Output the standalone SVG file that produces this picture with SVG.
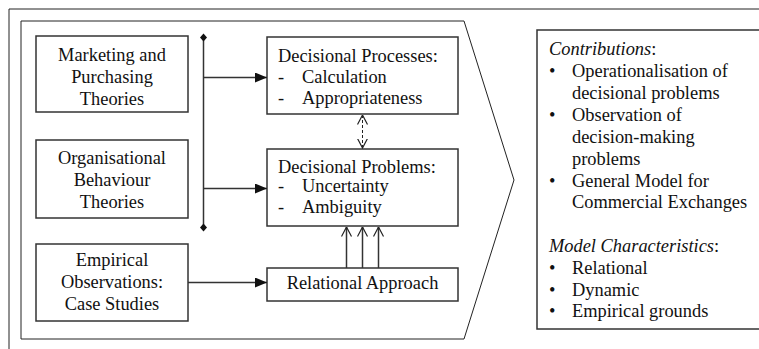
<svg xmlns="http://www.w3.org/2000/svg" width="759" height="349" viewBox="0 0 759 349">
<defs>
<style>
.box{fill:#fff;stroke:#333;stroke-width:1.5}
.ln{fill:none;stroke:#333;stroke-width:1.5}
.thin{fill:none;stroke:#222;stroke-width:1}
text{font-family:'Liberation Serif','Times New Roman',serif;font-size:18.4px;fill:#111}
.c{text-anchor:middle}
.i{font-style:italic}
</style>
<marker id="fa" viewBox="0 0 12 10" refX="12" refY="5" markerWidth="12" markerHeight="10" markerUnits="userSpaceOnUse" orient="auto"><path d="M0,0 L12,5 L0,10 Z" fill="#111"/></marker>
<marker id="oa" viewBox="0 0 10 12" refX="9.5" refY="6" markerWidth="10" markerHeight="12" markerUnits="userSpaceOnUse" orient="auto"><path d="M0,1 L9.5,6 L0,11" fill="none" stroke="#222" stroke-width="1.2"/></marker>
<marker id="oas" viewBox="0 0 10 12" refX="0.5" refY="6" markerWidth="10" markerHeight="12" markerUnits="userSpaceOnUse" orient="auto"><path d="M10,1 L0.5,6 L10,11" fill="none" stroke="#222" stroke-width="1.2"/></marker>
</defs>
<rect width="759" height="349" fill="#fff"/>
<g id="frame">
<path class="thin" d="M9,349 L9,9 L759,9"/>
<path class="thin" d="M21,21 L464,21 L514,180 L464,339 L21,339 Z"/>
</g>
<g id="n-marketing">
<rect class="box" x="36" y="36" width="152" height="76"/>
<text class="c" x="112" y="61">Marketing and</text>
<text class="c" x="112" y="83">Purchasing</text>
<text class="c" x="112" y="105">Theories</text>
</g>
<g id="n-organisational">
<rect class="box" x="36" y="140" width="152" height="78"/>
<text class="c" x="112" y="164">Organisational</text>
<text class="c" x="112" y="186">Behaviour</text>
<text class="c" x="112" y="208">Theories</text>
</g>
<g id="n-empirical">
<rect class="box" x="36" y="244" width="152" height="77"/>
<text class="c" x="112" y="266">Empirical</text>
<text class="c" x="112" y="288">Observations:</text>
<text class="c" x="112" y="310">Case Studies</text>
</g>
<g id="n-processes">
<rect class="box" x="267" y="37" width="191" height="77"/>
<text x="278" y="62">Decisional Processes:</text>
<text x="278" y="83">-</text><text x="302" y="83">Calculation</text>
<text x="278" y="104">-</text><text x="302" y="104">Appropriateness</text>
</g>
<g id="n-problems">
<rect class="box" x="267" y="149" width="191" height="77"/>
<text x="278" y="173">Decisional Problems:</text>
<text x="278" y="192">-</text><text x="302" y="192">Uncertainty</text>
<text x="278" y="213">-</text><text x="302" y="213">Ambiguity</text>
</g>
<g id="n-relational">
<rect class="box" x="267" y="268" width="191" height="33"/>
<text class="c" x="362.5" y="289">Relational Approach</text>
</g>
<g id="n-contributions">
<rect class="box" x="537" y="30" width="230" height="299"/>
<text class="i" x="549" y="55">Contributions<tspan font-style="normal">:</tspan></text>
<text x="549" y="77">•</text><text x="572" y="77">Operationalisation of</text>
<text x="572" y="99">decisional problems</text>
<text x="549" y="121">•</text><text x="572" y="121">Observation of</text>
<text x="572" y="143">decision-making</text>
<text x="572" y="165">problems</text>
<text x="549" y="187">•</text><text x="572" y="187">General Model for</text>
<text x="572" y="208">Commercial Exchanges</text>
<text class="i" x="549" y="252">Model Characteristics<tspan font-style="normal">:</tspan></text>
<text x="549" y="274">•</text><text x="572" y="274">Relational</text>
<text x="549" y="296">•</text><text x="572" y="296">Dynamic</text>
<text x="549" y="317">•</text><text x="572" y="317">Empirical grounds</text>
</g>
<g id="connectors">
<path class="ln" d="M203.5,38 L203.5,227"/>
<path d="M203.5,33.5 L207,37.5 L203.5,41.5 L200,37.5 Z" fill="#111"/>
<path d="M203.5,223.5 L207,227.5 L203.5,231.5 L200,227.5 Z" fill="#111"/>
<path class="ln" d="M203.5,77.5 L267,77.5" marker-end="url(#fa)"/>
<path class="ln" d="M203.5,188.5 L267,188.5" marker-end="url(#fa)"/>
<path class="ln" d="M188,282.5 L267,282.5" marker-end="url(#fa)"/>
<path fill="none" stroke="#222" stroke-width="1" stroke-dasharray="3,2" d="M362.5,115 L362.5,148" marker-start="url(#oas)" marker-end="url(#oa)"/>
<path class="ln" d="M346.5,268 L346.5,227" marker-end="url(#oa)"/>
<path class="ln" d="M362.5,268 L362.5,227" marker-end="url(#oa)"/>
<path class="ln" d="M378.5,268 L378.5,227" marker-end="url(#oa)"/>
</g>
</svg>
